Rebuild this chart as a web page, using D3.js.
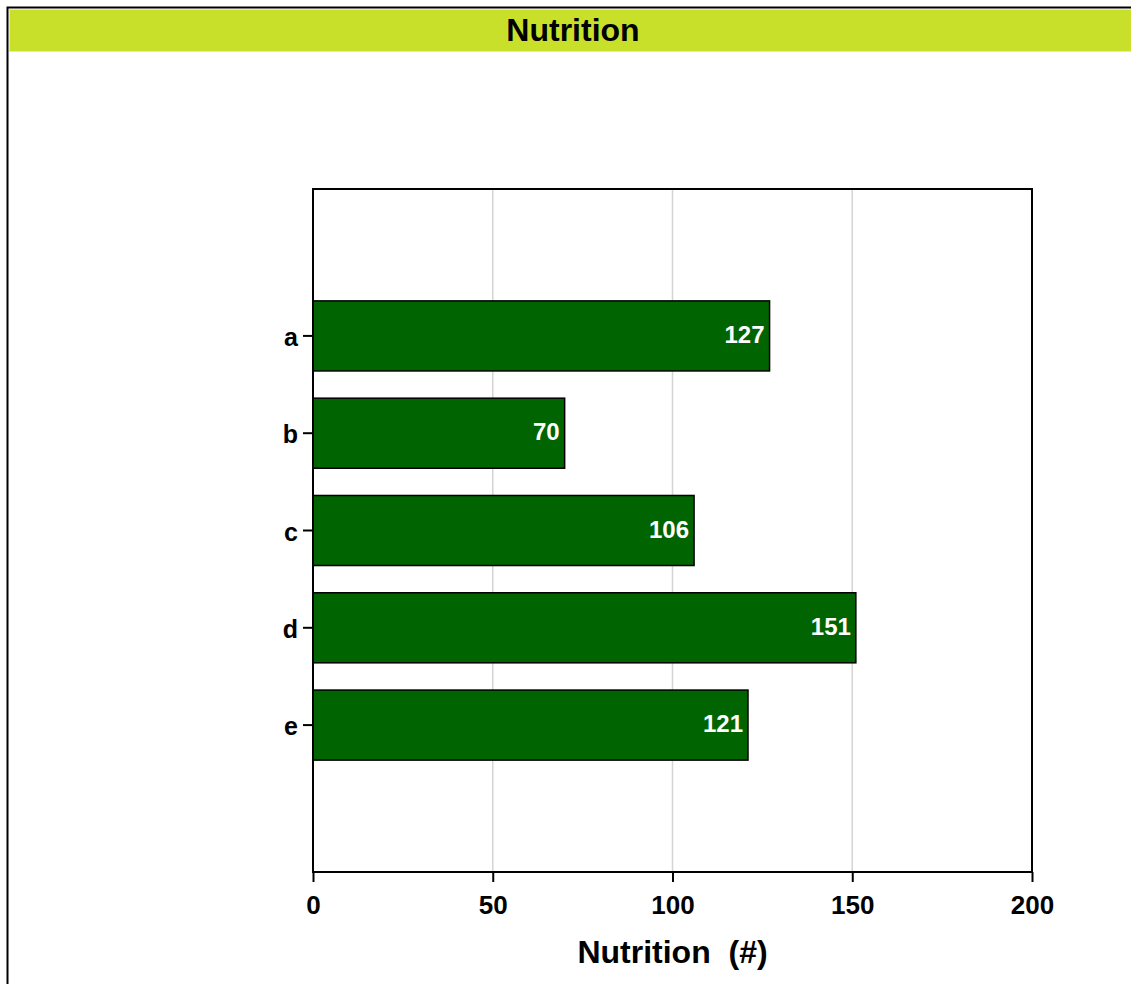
<!DOCTYPE html>
<html>
<head>
<meta charset="utf-8">
<script src="https://cdn.jsdelivr.net/npm/d3@7"></script>
<style>
  body { margin: 0; background: #fff; }
  text { font-family: "Liberation Sans", Arial, sans-serif; font-weight: bold; white-space: pre; }
</style>
</head>
<body>
<div id="chart"></div>
<script>
// chart data
var categories = ["a", "b", "c", "d", "e"]
var values = [127, 70, 106, 151, 121]
var xTicks = [0, 50, 100, 150, 200]
var titleText = "Nutrition"
var xTitle = "Nutrition  (#)"

var width = 1131
var height = 984
var margin = {top: 189, right: 99, bottom: 112, left: 313}
var plotW = width - margin.left - margin.right
var plotH = height - margin.top - margin.bottom

var svg = d3.select("#chart")
    .append("svg")
    .attr("width", width)
    .attr("height", height)

// outer frame + title band
svg.append("rect")
    .attr("x", 7.5).attr("y", 7.5)
    .attr("width", width + 10).attr("height", height + 10)
    .attr("fill", "#fff")
    .attr("stroke", "#000")
    .attr("stroke-width", 2)

svg.append("rect")
    .attr("x", 9.5).attr("y", 9.5)
    .attr("width", width).attr("height", 42)
    .attr("fill", "#c8e02a")
    .attr("stroke", "#e4efa0")
    .attr("stroke-width", 1)

svg.append("text")
    .attr("x", 573).attr("y", 41)
    .attr("text-anchor", "middle")
    .style("font-size", "32px")
    .text(titleText)

var g = svg.append("g")
    .attr("transform", "translate(" + margin.left + "," + margin.top + ")")

var x = d3.scaleLinear()
    .domain([0, 200])
    .range([0, plotW])

var y = d3.scaleBand()
    .domain(categories)
    .range([0, plotH])
    .paddingInner(0.28)
    .paddingOuter(1.15)

// gridlines
g.selectAll(".grid")
    .data(xTicks.filter(function (d) { return d > 0 && d < 200 }))
    .enter()
    .append("line")
    .attr("x1", function (d) { return x(d) })
    .attr("x2", function (d) { return x(d) })
    .attr("y1", 0)
    .attr("y2", plotH)
    .attr("stroke", "#d4d4d4")
    .attr("stroke-width", 1.5)

// bars
g.selectAll(".bar")
    .data(values)
    .enter()
    .append("rect")
    .attr("x", x(0))
    .attr("y", function (d, i) { return y(categories[i]) })
    .attr("width", function (d) { return x(d) - x(0) })
    .attr("height", y.bandwidth())
    .attr("fill", "#006400")
    .attr("stroke", "#000")
    .attr("stroke-width", 1.5)

// value labels
g.selectAll(".val")
    .data(values)
    .enter()
    .append("text")
    .attr("x", function (d) { return x(d) - 5 })
    .attr("y", function (d, i) { return y(categories[i]) + y.bandwidth() / 2 + 7 })
    .attr("text-anchor", "end")
    .attr("fill", "#fff")
    .style("font-size", "24px")
    .text(function (d) { return d })

// plot box
g.append("rect")
    .attr("x", 0).attr("y", 0)
    .attr("width", plotW).attr("height", plotH)
    .attr("fill", "none")
    .attr("stroke", "#000")
    .attr("stroke-width", 2)

// x axis
var xAxis = g.append("g")
    .attr("transform", "translate(0," + plotH + ")")
    .call(d3.axisBottom(x).tickValues(xTicks).tickSize(10))
xAxis.select(".domain").remove()
xAxis.selectAll("line").attr("stroke", "#000").attr("stroke-width", 2)
xAxis.selectAll("text")
    .attr("y", 42)
    .attr("dy", null)
    .attr("fill", "#000")
    .style("font-size", "26px")
    .style("font-family", "'Liberation Sans', Arial, sans-serif")
    .style("font-weight", "bold")

// y axis
var yAxis = g.append("g")
    .call(d3.axisLeft(y).tickSize(10).tickPadding(5))
yAxis.select(".domain").remove()
yAxis.selectAll("line").attr("stroke", "#000").attr("stroke-width", 2)
yAxis.selectAll("text")
    .attr("dy", "10")
    .attr("fill", "#000")
    .style("font-size", "25px")
    .style("font-family", "'Liberation Sans', Arial, sans-serif")
    .style("font-weight", "bold")

// x title
svg.append("text")
    .attr("x", margin.left + plotW / 2)
    .attr("y", 963)
    .attr("text-anchor", "middle")
    .style("font-size", "32px")
    .text(xTitle)
</script>
</body>
</html>
